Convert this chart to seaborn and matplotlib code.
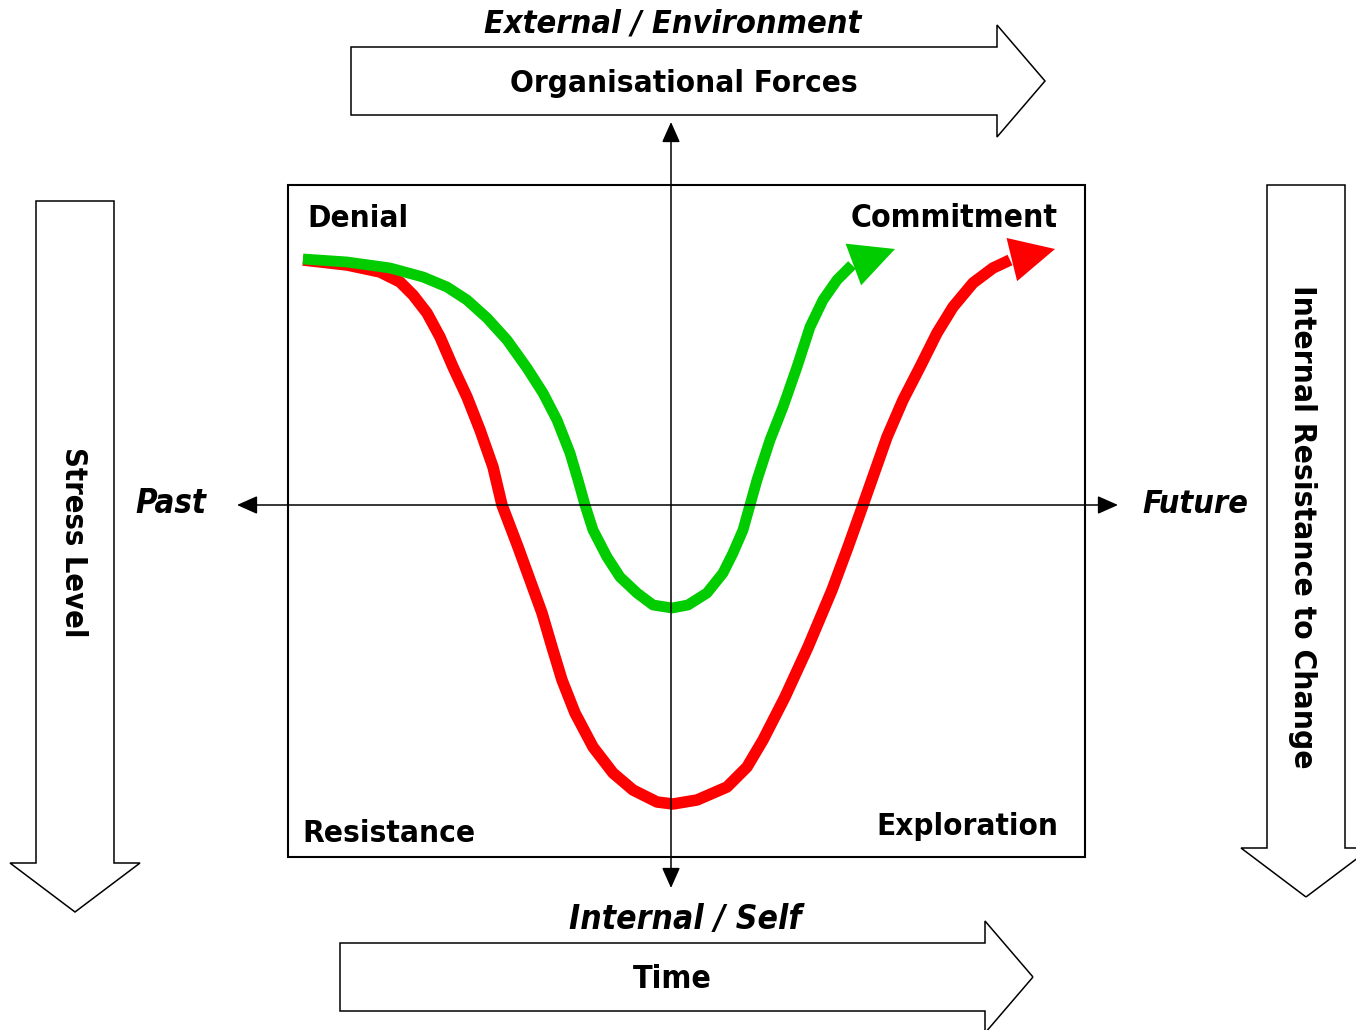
"""Change curve diagram: stress level through denial, resistance, exploration, commitment."""

import matplotlib

matplotlib.use("Agg")
import matplotlib.pyplot as plt
import seaborn as sns
from matplotlib.patches import FancyArrow, Rectangle

# curve data (x = time, y = stress level, pixel units)
red_x = [303, 347, 380, 400, 413, 427, 440, 453, 467, 480, 493, 502, 518, 530, 542,
         552, 562, 575, 593, 613, 633, 657, 673, 697, 727, 747, 763, 785, 808, 832,
         848, 863, 887, 903, 920, 937, 953, 973, 993, 1010]
red_y = [260, 265, 272, 282, 295, 313, 337, 367, 397, 430, 467, 505, 547, 580, 613,
         647, 680, 713, 747, 773, 790, 802, 804, 800, 787, 767, 740, 697, 647, 590,
         547, 505, 437, 400, 367, 333, 307, 283, 268, 260]
red_tip = (1055, 249)

green_x = [303, 347, 390, 423, 447, 467, 487, 507, 527, 543, 557, 570, 578, 585, 593,
           607, 620, 637, 653, 672, 688, 707, 723, 733, 743, 750, 757, 770, 783, 797,
           810, 823, 837, 852]
green_y = [259, 262, 268, 277, 287, 300, 318, 340, 368, 393, 420, 453, 480, 505, 530,
           557, 577, 593, 605, 608, 605, 593, 573, 553, 530, 505, 480, 440, 407, 367,
           327, 300, 280, 265]
green_tip = (895, 249)

RED = "#ff0000"
GREEN = "#00cc00"

sns.set_theme(style="white")
plt.rcParams["font.family"] = ["DejaVu Sans"]
plt.rcParams["text.color"] = "black"

fig = plt.figure(figsize=(13.56, 10.30), dpi=100)
ax = fig.add_axes([0, 0, 1, 1])
ax.set_xlim(0, 1356)
ax.set_ylim(1030, 0)
ax.axis("off")
renderer = fig.canvas.get_renderer()


def block_arrow(x, y, dx, dy, width, head_width, head_length):
    ax.add_patch(FancyArrow(x, y, dx, dy, width=width, head_width=head_width,
                            head_length=head_length, length_includes_head=True,
                            fill=False, ec="black", lw=1.1, joinstyle="miter"))


def label(x, y, s, span_px, rotation=0, **kw):
    t = ax.text(x, y, s, fontsize=20, rotation=rotation, fontweight="bold",
                fontstretch="condensed", color="black", **kw)
    bb = t.get_window_extent(renderer)
    span = bb.height if rotation else bb.width
    t.set_fontsize(20 * span_px / span)
    return t


# big outline arrows around the diagram
block_arrow(351, 81, 694, 0, 68, 112, 48)
block_arrow(340, 977, 693, 0, 68, 112, 48)
block_arrow(75, 201, 0, 711, 78, 130, 49)
block_arrow(1306, 185, 0, 712, 78, 130, 49)

# inner box
ax.add_patch(Rectangle((288, 185), 797, 672, fill=False, ec="black", lw=1.5))

# cross axes
axis_style = dict(arrowstyle="<|-|>,head_length=0.9,head_width=0.4",
                  mutation_scale=14, color="black", lw=1.1, shrinkA=0, shrinkB=0)
ax.annotate("", xy=(1118, 505), xytext=(237, 505), arrowprops=axis_style)
ax.annotate("", xy=(671, 888), xytext=(671, 122), arrowprops=axis_style)

# curves
sns.lineplot(x=red_x, y=red_y, sort=False, estimator=None, color=RED, lw=8.3,
             ax=ax, solid_capstyle="butt", solid_joinstyle="round")
sns.lineplot(x=green_x, y=green_y, sort=False, estimator=None, color=GREEN, lw=7.8,
             ax=ax, solid_capstyle="butt", solid_joinstyle="round")
head = "-|>,head_length=1.0,head_width=0.5"
ax.annotate("", xy=red_tip, xytext=(red_x[-1], red_y[-1]),
            arrowprops=dict(arrowstyle=head, mutation_scale=32, color=RED, lw=0,
                            shrinkA=0, shrinkB=0))
ax.annotate("", xy=green_tip, xytext=(green_x[-1], green_y[-1]),
            arrowprops=dict(arrowstyle=head, mutation_scale=32, color=GREEN, lw=0,
                            shrinkA=0, shrinkB=0))

# labels
label(307, 227, "Denial", 101, ha="left", va="baseline")
label(1058, 227, "Commitment", 207, ha="right", va="baseline")
label(302, 842, "Resistance", 173, ha="left", va="baseline")
label(1058, 835, "Exploration", 182, ha="right", va="baseline")
label(171, 513, "Past", 71, ha="center", va="baseline", style="italic")
label(1195, 513, "Future", 106, ha="center", va="baseline", style="italic")
label(673, 33, "External / Environment", 377, ha="center", va="baseline", style="italic")
label(684, 92, "Organisational Forces", 347, ha="center", va="baseline")
label(685, 929, "Internal / Self", 232, ha="center", va="baseline", style="italic")
label(672, 988, "Time", 79, ha="center", va="baseline")
label(73, 542, "Stress Level", 190, rotation=-90, ha="center", va="center")
label(1303, 527, "Internal Resistance to Change", 483, rotation=-90, ha="center", va="center")

fig.savefig("out.png", dpi=100)
